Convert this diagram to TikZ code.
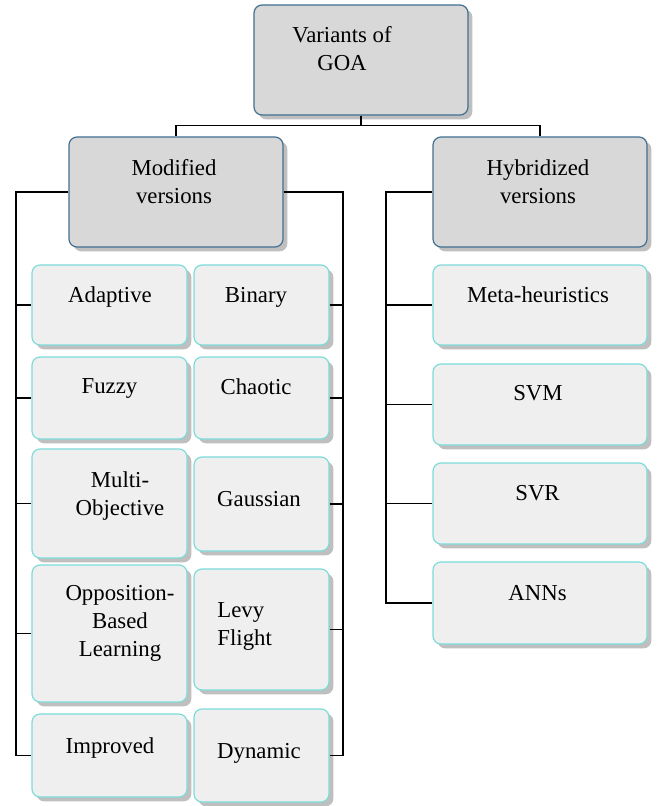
\documentclass[tikz,border=0pt]{standalone}
\usepackage{fontspec}
\setmainfont{Liberation Serif}
\usetikzlibrary{shadows}

\definecolor{headfill}{RGB}{216,216,216}
\definecolor{headline}{RGB}{66,112,145}
\definecolor{leaffill}{RGB}{239,239,239}
\definecolor{leafline}{RGB}{125,220,218}

\tikzset{
  boxshadow/.style={drop shadow={shadow xshift=2.2pt,shadow yshift=-2.2pt,fill=black!25,opacity=1}},
  headbox/.style={rectangle,rounded corners=4pt,draw=headline,fill=headfill,line width=0.6pt,
    minimum width=107pt,minimum height=55pt,boxshadow},
  leafbox/.style={rectangle,rounded corners=4pt,draw=leafline,fill=leaffill,line width=0.6pt,boxshadow},
  lbl/.style={anchor=north,inner sep=0pt,align=center,font=\fontsize{11.4}{14}\selectfont},
  wire/.style={draw=black,line width=0.6pt}
}

\begin{document}
\begin{tikzpicture}[x=0.5pt,y=-0.5pt]
\useasboundingbox (0,0) rectangle (659,806);

\begin{scope}[every node/.style={headbox}]
    \node (goa) at (361,60) {};
    \node (mod) at (176,192) {};
    \node (hyb) at (540,192) {};
\end{scope}

\begin{scope}[every node/.style={leafbox,minimum width=77.5pt}]
    \node[minimum height=40pt] (adap) at (109.5,305) {};
    \node[minimum height=41pt] (fuzzy) at (109.5,398) {};
    \node[minimum height=54.5pt] (multi) at (109.5,503.5) {};
    \node[minimum height=68.5pt] (oppo) at (109.5,633.5) {};
    \node[minimum height=41.5pt] (impr) at (109.5,755.5) {};
\end{scope}

\begin{scope}[every node/.style={leafbox,minimum width=67.5pt}]
    \node[minimum height=40pt] (bin) at (261.5,305) {};
    \node[minimum height=41pt] (chao) at (261.5,398) {};
    \node[minimum height=47pt] (gauss) at (261.5,504) {};
    \node[minimum height=60.5pt] (levy) at (261.5,629.5) {};
    \node[minimum height=46.5pt] (dyn) at (261.5,755.5) {};
\end{scope}

\begin{scope}[every node/.style={leafbox,minimum width=107pt}]
    \node[minimum height=40pt] (meta) at (540,305) {};
    \node[minimum height=40.5pt] (svm) at (540,404.5) {};
    \node[minimum height=40.5pt] (svr) at (540,503.5) {};
    \node[minimum height=41pt] (anns) at (540,603) {};
\end{scope}

% texts
\begin{scope}[every node/.style={lbl}]
    \node (t-goa) at (342,26) {Variants of\\GOA};
    \node (t-mod) at (174,159) {Modified\\versions};
    \node (t-hyb) at (538,159) {Hybridized\\versions};
    \node (t-adap) at (110,286) {Adaptive};
    \node (t-bin) at (256,287) {Binary};
    \node (t-meta) at (538,286) {Meta-heuristics};
    \node (t-fuzzy) at (109.5,378) {Fuzzy};
    \node (t-chao) at (256,378) {Chaotic};
    \node (t-svm) at (538,385) {SVM};
    \node (t-multi) at (120,471) {Multi-\\Objective};
    \node (t-gauss) at (259,491) {Gaussian};
    \node (t-svr) at (537.5,485) {SVR};
    \node (t-oppo) at (120,585) {Opposition-\\Based\\Learning};
    \node[anchor=north west,align=left] (t-levy) at (217,602) {Levy\\Flight};
    \node (t-anns) at (537.5,585) {ANNs};
    \node (t-impr) at (110,737) {Improved};
    \node (t-dyn) at (259,743) {Dynamic};
\end{scope}

% connectors
\coordinate (lrail) at (16,755.5);
\coordinate (rrail) at (343,755.5);
\coordinate (hrail) at (386,603);

\draw[wire] (goa.south) -- ++(0,10) -| (mod.north);
\draw[wire] (goa.south) -- ++(0,10) -| (hyb.north);
\draw[wire] (mod.west) -| (lrail) -- (impr.west);
\draw[wire] (mod.east) -| (rrail) -- (dyn.east);
\draw[wire] (hyb.west) -| (hrail) -- (anns.west);
\foreach \n in {adap,fuzzy,multi,oppo}
    \draw[wire] (\n.west) -- (\n.west -| lrail);
\foreach \n in {bin,chao,gauss,levy}
    \draw[wire] (\n.east) -- (\n.east -| rrail);
\foreach \n in {meta,svm,svr}
    \draw[wire] (\n.west) -- (\n.west -| hrail);
\end{tikzpicture}
\end{document}
